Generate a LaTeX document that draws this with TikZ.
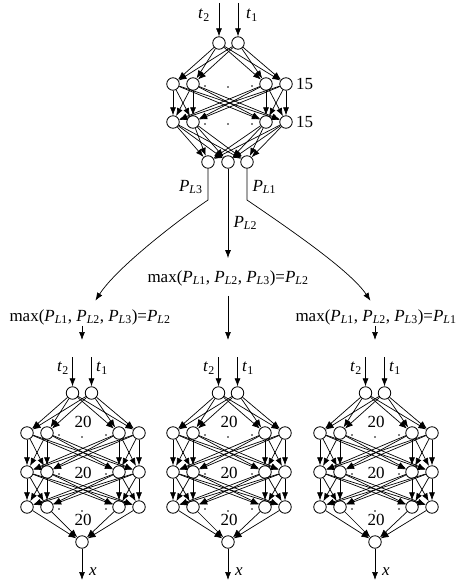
\documentclass[tikz,border=0pt]{standalone}
\usepackage{fontspec}
\setmainfont{Liberation Serif}
\usetikzlibrary{positioning,arrows.meta}

\tikzset{
    neuron/.style={circle, draw, line width=0.8pt, fill=white, minimum size=12.5pt, inner sep=0pt},
    link/.style={-{Latex[length=8pt,width=6pt]}, line width=0.7pt},
    dotmark/.style={circle, fill, inner sep=0pt, minimum size=1.6pt},
    maxlabel/.style={inner sep=0pt},
}
\newcommand{\PL}[1]{\textit{P}\textsubscript{\textit{L}#1}}
\newcommand{\tin}[1]{\textit{t}\textsubscript{#1}}

\begin{document}
\begin{tikzpicture}[x=1pt, y=-1pt, font=\fontsize{17}{19}\selectfont]
    \useasboundingbox (0,0) rectangle (455,583);

    % 1. Rete di classificazione (in alto)
    \node[neuron] (i1) at (219,43) {};
    \node[neuron] (i2) at (238,43) {};
    \foreach \k/\dx in {1/-55,2/-35,3/38,4/58} {
        \node[neuron] (ha\k) at ({228+\dx},84) {};
        \node[neuron] (hb\k) at ({228+\dx},122) {};
    }
    \node[neuron] (o1) at (208,162) {};
    \node[neuron] (o2) at (228,162) {};
    \node[neuron] (o3) at (247,162) {};

    \coordinate (s1) at (219,3);
    \coordinate (s2) at (238,3);
    \draw[link] (s1) -- (i1);
    \draw[link] (s2) -- (i2);
    \node (t2) at (204,15) {\tin{2}};
    \node (t1) at (252,15) {\tin{1}};

    \foreach \a in {1,2}
        \foreach \b in {1,...,4}
            \draw[link] (i\a) -- (ha\b);
    \foreach \a in {1,...,4}
        \foreach \b in {1,...,4}
            \draw[link] (ha\a) -- (hb\b);
    \foreach \a in {1,...,4}
        \foreach \b in {1,2,3}
            \draw[link] (hb\a) -- (o\b);

    \node[dotmark] (da1) at (205,86) {};
    \node[dotmark] (da2) at (228,87) {};
    \node[dotmark] (da3) at (252,86) {};
    \node[dotmark] (db1) at (205,124) {};
    \node[dotmark] (db2) at (228,124) {};
    \node[dotmark] (db3) at (252,124) {};
    \node[right=0pt of ha4] (n15a) {15};
    \node[right=0pt of hb4] (n15b) {15};

    % 2. Uscite P_L e selezione del massimo
    \node[maxlabel] (maxl) at (90,317) {max(\PL{1}, \PL{2}, \PL{3})=\PL{2}};
    \node[maxlabel] (maxm) at (228,278) {max(\PL{1}, \PL{2}, \PL{3})=\PL{2}};
    \node[maxlabel] (maxr) at (376,317) {max(\PL{1}, \PL{2}, \PL{3})=\PL{1}};

    \coordinate (bl) at (208,200);
    \coordinate (br) at (247,200);
    \draw[link, shorten >=10pt] (o1) -- (bl) .. controls (170,226) and (115,270) .. (maxl.north);
    \draw[link, shorten >=10pt] (o3) -- (br) .. controls (285,226) and (350,270) .. (maxr.north);
    \draw[link, shorten >=12pt] (o2) -- (maxm.north);
    \node[left=1pt] (pl3) at (207,187) {\PL{3}};
    \node[right=1pt] (pl1) at (248,187) {\PL{1}};
    \node[right=1pt] (pl2) at (229,223) {\PL{2}};

    \coordinate (el) at (82,340);
    \coordinate (em) at (228,340);
    \coordinate (er) at (375,340);
    \draw[link, shorten <=1pt] (maxl.south -| el) -- (el);
    \draw[link, shorten <=10pt] (maxm.south) -- (em);
    \draw[link, shorten <=1pt] (maxr.south -| er) -- (er);

    % 3. Reti di regressione (in basso)
    \foreach \c/\n in {82/a,228/b,375/c} {
        \begin{scope}[xshift=\c pt]
            \node[neuron] (\n-i1) at (-9.5,393) {};
            \node[neuron] (\n-i2) at (9.5,393) {};
            \foreach \k/\dx in {1/-55,2/-35,3/37,4/57} {
                \node[neuron] (\n-ha\k) at (\dx,433) {};
                \node[neuron] (\n-hb\k) at (\dx,472) {};
                \node[neuron] (\n-hc\k) at (\dx,507) {};
            }
            \node[neuron] (\n-o) at (0,542) {};

            \coordinate (\n-s1) at (-9.5,357);
            \coordinate (\n-s2) at (9.5,357);
            \draw[link] (\n-s1) -- (\n-i1);
            \draw[link] (\n-s2) -- (\n-i2);
            \node (\n-t2) at (-19,368) {\tin{2}};
            \node (\n-t1) at (20,368) {\tin{1}};

            \foreach \a in {1,2}
                \foreach \b in {1,...,4}
                    \draw[link] (\n-i\a) -- (\n-ha\b);
            \foreach \a in {1,...,4}
                \foreach \b in {1,...,4} {
                    \draw[link] (\n-ha\a) -- (\n-hb\b);
                    \draw[link] (\n-hb\a) -- (\n-hc\b);
                }
            \foreach \a in {1,...,4}
                \draw[link] (\n-hc\a) -- (\n-o);

            \coordinate (\n-x) at (0,580);
            \draw[link] (\n-o) -- (\n-x);
            \node (\n-xl) at (11,572) {\textit{x}};

            \foreach \r/\ry in {a/433,b/472,c/507} {
                \node[dotmark] (\n-d\r1) at (-23,{\ry+2}) {};
                \node[dotmark] (\n-d\r2) at (0,{\ry+4}) {};
                \node[dotmark] (\n-d\r3) at (24,{\ry+2}) {};
            }
            \node (\n-n1) at (1,422) {20};
            \node (\n-n2) at (1,473) {20};
            \node (\n-n3) at (1,520) {20};
        \end{scope}
    }
\end{tikzpicture}
\end{document}
